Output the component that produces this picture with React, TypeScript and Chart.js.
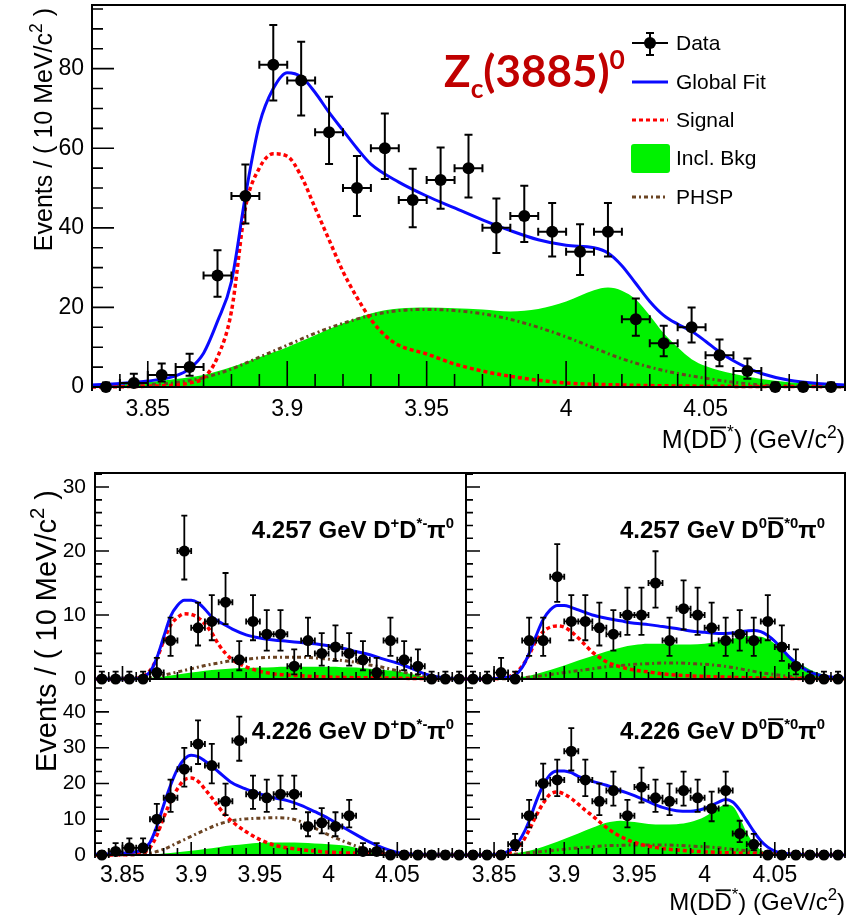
import React, { useEffect, useRef } from 'react';
import { Chart, registerables } from 'chart.js';

Chart.register(...registerables);

const PAGE_W = 862;
const PAGE_H = 917;
const FONT = "'Liberation Sans', Arial, Helvetica, sans-serif";

// ---- shared binning (10 MeV bins) ----
const xMin = 3.83;
const xMax = 4.1;
const binHalfWidth = 0.005;
const binCenters = [
  3.835, 3.845, 3.855, 3.865, 3.875, 3.885, 3.895, 3.905, 3.915, 3.925, 3.935, 3.945, 3.955, 3.965,
  3.975, 3.985, 3.995, 4.005, 4.015, 4.025, 4.035, 4.045, 4.055, 4.065, 4.075, 4.085, 4.095,
];
const xTickValues = [3.85, 3.9, 3.95, 4, 4.05];

// ---- combined fit, Zc(3885)0 ----
const mainCounts = [0, 1, 3, 5, 28, 48, 81, 77, 64, 50, 60, 47, 52, 55, 40, 43, 39, 34, 39, 17, 11, 15, 8, 4, 0, 0, 0];
const mainErrLo = [0, 0.83, 1.63, 2.16, 5.29, 6.91, 8.99, 8.76, 7.98, 7.05, 7.73, 6.84, 7.19, 7.4, 6.31, 6.54, 6.23, 5.83, 6.23, 4.09, 3.26, 3.83, 2.76, 1.91, 0, 0, 0];
const mainErrHi = [1.15, 2.3, 2.92, 3.38, 6.35, 7.93, 9.97, 9.74, 8.97, 8.07, 8.72, 7.86, 8.2, 8.4, 7.35, 7.57, 7.27, 6.87, 7.27, 5.21, 4.42, 4.97, 3.95, 3.16, 1.15, 1.15, 1.15];
const mainFit: [number, number][] = [
  [3.83, 0.5], [3.84, 0.9], [3.85, 1.5], [3.86, 2.8], [3.865, 4.6], [3.87, 8.5], [3.875, 16.5], [3.88, 26.5],
  [3.885, 48], [3.89, 66], [3.895, 75], [3.9, 79], [3.905, 78], [3.91, 74], [3.915, 69], [3.92, 64.5],
  [3.925, 60], [3.93, 56], [3.94, 51.5], [3.95, 48], [3.96, 45], [3.97, 42], [3.98, 39.3], [3.99, 37],
  [4.0, 35.6], [4.01, 35], [4.015, 33.7], [4.02, 30.5], [4.025, 26], [4.03, 21.5], [4.035, 18], [4.04, 15.8],
  [4.045, 14], [4.05, 11.5], [4.055, 8.8], [4.06, 6.6], [4.065, 4.8], [4.07, 3.4], [4.08, 1.7], [4.09, 0.9], [4.1, 0.5],
];
const mainSignal: [number, number][] = [
  [3.83, 0], [3.85, 0.2], [3.86, 0.5], [3.865, 1], [3.87, 2.3], [3.875, 7.5], [3.88, 19], [3.885, 45],
  [3.89, 55], [3.895, 58.6], [3.9, 58], [3.905, 53], [3.91, 45], [3.915, 37], [3.92, 29], [3.925, 22.5],
  [3.93, 17], [3.935, 13], [3.94, 10.5], [3.95, 8.3], [3.96, 5.8], [3.97, 4], [3.98, 2.7], [3.99, 1.7],
  [4.0, 1], [4.02, 0.5], [4.05, 0.2], [4.1, 0.1],
];
const mainBkg: [number, number][] = [
  [3.83, 0.3], [3.84, 0.6], [3.85, 1.2], [3.86, 2], [3.87, 3], [3.88, 5], [3.89, 7.5], [3.9, 10],
  [3.91, 13], [3.92, 16], [3.93, 18.5], [3.94, 19.7], [3.95, 20], [3.96, 19.8], [3.97, 19.5], [3.98, 19],
  [3.99, 19.6], [4.0, 21.5], [4.01, 24.3], [4.015, 25], [4.02, 24.2], [4.025, 22], [4.03, 18], [4.035, 13.5],
  [4.04, 10], [4.045, 7], [4.05, 5.3], [4.06, 3.3], [4.07, 2], [4.08, 1.2], [4.09, 0.8], [4.1, 0.5],
];
const mainPhsp: [number, number][] = [
  [3.83, 0.1], [3.84, 0.3], [3.85, 0.6], [3.86, 1.1], [3.87, 2.3], [3.88, 4.5], [3.89, 7.5], [3.9, 10.5],
  [3.91, 13.5], [3.92, 16], [3.93, 18], [3.94, 19.2], [3.95, 19.5], [3.96, 19.2], [3.97, 18.4], [3.98, 17],
  [3.99, 15], [4.0, 12.6], [4.01, 9.8], [4.02, 7.1], [4.03, 5], [4.04, 3.4], [4.05, 2.2], [4.06, 1.2],
  [4.07, 0.5], [4.08, 0.2], [4.09, 0.1], [4.1, 0],
];

// ---- 4.257 GeV, D+ D*- pi0 ----
const ulCounts = [0, 0, 0, 0, 1, 6, 20, 8, 9, 12, 3, 9, 7, 7, 2, 6, 4, 5, 4, 3, 1, 6, 3, 2, 0, 0, 0];
const ulErrLo = [0, 0, 0, 0, 0.83, 2.38, 4.45, 2.76, 2.94, 3.41, 1.63, 2.94, 2.58, 2.58, 1.29, 2.38, 1.91, 2.16, 1.91, 1.63, 0.83, 2.38, 1.63, 1.29, 0, 0, 0];
const ulErrHi = [1.15, 1.15, 1.15, 1.15, 2.3, 3.58, 5.55, 3.95, 4.12, 4.57, 2.92, 4.12, 3.77, 3.77, 2.64, 3.58, 3.16, 3.38, 3.16, 2.92, 2.3, 3.58, 2.92, 2.64, 1.15, 1.15, 1.15];
const ulFit: [number, number][] = [
  [3.83, 0], [3.86, 0.05], [3.865, 0.3], [3.87, 1.1], [3.875, 3.3], [3.88, 6.6], [3.885, 9.8], [3.89, 11.5],
  [3.895, 12.3], [3.9, 12.3], [3.905, 11.9], [3.91, 10.9], [3.915, 9.7], [3.92, 9], [3.925, 8.4], [3.93, 7.8],
  [3.94, 6.9], [3.95, 6.4], [3.96, 6.1], [3.97, 5.9], [3.98, 5.7], [3.99, 5.5], [4.0, 5.2], [4.01, 4.8],
  [4.02, 4.3], [4.03, 3.8], [4.04, 3.1], [4.05, 2.5], [4.06, 1.7], [4.07, 0.8], [4.08, 0.3], [4.09, 0.05], [4.1, 0],
];
const ulSignal: [number, number][] = [
  [3.83, 0], [3.86, 0.1], [3.865, 0.4], [3.87, 1.3], [3.875, 3.2], [3.88, 6], [3.885, 8.4], [3.89, 9.6],
  [3.895, 10.2], [3.9, 10.1], [3.905, 9.6], [3.91, 8.6], [3.915, 7.2], [3.92, 5.4], [3.925, 4], [3.93, 3],
  [3.94, 1.9], [3.95, 1.2], [3.96, 0.8], [3.98, 0.5], [4.0, 0.3], [4.04, 0.15], [4.1, 0],
];
const ulBkg: [number, number][] = [
  [3.83, 0], [3.86, 0.05], [3.87, 0.2], [3.88, 0.4], [3.89, 0.7], [3.9, 1], [3.91, 1.3], [3.92, 1.5],
  [3.93, 1.65], [3.94, 1.75], [3.95, 1.8], [3.96, 1.85], [3.97, 1.9], [3.98, 1.9], [3.99, 1.9], [4.0, 1.9],
  [4.01, 1.85], [4.02, 1.8], [4.03, 1.6], [4.04, 1.4], [4.05, 1.2], [4.06, 0.8], [4.07, 0.4], [4.08, 0.15], [4.09, 0.05], [4.1, 0],
];
const ulPhsp: [number, number][] = [
  [3.83, 0], [3.86, 0.05], [3.87, 0.2], [3.88, 0.6], [3.89, 1.1], [3.9, 1.6], [3.91, 2.1], [3.92, 2.5],
  [3.93, 2.9], [3.94, 3.1], [3.95, 3.3], [3.96, 3.4], [3.97, 3.4], [3.98, 3.4], [3.99, 3.3], [4.0, 3.1],
  [4.01, 2.9], [4.02, 2.6], [4.03, 2.2], [4.04, 1.8], [4.05, 1.3], [4.06, 0.8], [4.07, 0.4], [4.08, 0.15], [4.09, 0.05], [4.1, 0],
];

// ---- 4.226 GeV, D+ D*- pi0 ----
const llCounts = [0, 1, 2, 2, 10, 16, 24, 31, 25, 15, 32, 17, 16, 17, 17, 8, 9, 8, 11, 1, 1, 0, 0, 0, 0, 0, 0];
const llErrLo = [0, 0.83, 1.29, 1.29, 3.11, 3.96, 4.88, 5.56, 4.99, 3.83, 5.65, 4.09, 3.96, 4.09, 4.09, 2.76, 2.94, 2.76, 3.26, 0.83, 0.83, 0, 0, 0, 0, 0, 0];
const llErrHi = [1.15, 2.3, 2.64, 2.64, 4.27, 5.09, 5.97, 6.62, 6.07, 4.97, 6.7, 5.21, 5.09, 5.21, 5.21, 3.95, 4.12, 3.95, 4.42, 2.3, 2.3, 1.15, 1.15, 1.15, 1.15, 1.15, 1.15];
const llFit: [number, number][] = [
  [3.83, 0.2], [3.84, 0.3], [3.85, 0.5], [3.855, 0.7], [3.86, 0.9], [3.865, 1.7], [3.87, 3.5], [3.875, 8],
  [3.88, 14], [3.885, 19.5], [3.89, 24], [3.895, 26.8], [3.9, 27.9], [3.905, 27.5], [3.91, 26.3], [3.915, 24.8],
  [3.92, 23.2], [3.93, 20.1], [3.94, 18.4], [3.95, 17.1], [3.96, 16], [3.97, 15.2], [3.98, 13.9], [3.99, 12.1],
  [4.0, 10.2], [4.01, 7.9], [4.02, 5.7], [4.03, 3.6], [4.04, 1.9], [4.05, 0.7], [4.06, 0.2], [4.07, 0.05], [4.1, 0],
];
const llSignal: [number, number][] = [
  [3.83, 0], [3.86, 0.2], [3.865, 0.6], [3.87, 2], [3.875, 5.5], [3.88, 10.5], [3.885, 15], [3.89, 18.5],
  [3.895, 21], [3.9, 21.5], [3.905, 20.6], [3.91, 18.4], [3.915, 16], [3.92, 13.4], [3.925, 11.1], [3.93, 9.3],
  [3.94, 6.5], [3.95, 4.3], [3.96, 2.8], [3.97, 2], [3.98, 1.5], [3.99, 1.1], [4.0, 0.8], [4.02, 0.5], [4.05, 0.2], [4.1, 0],
];
const llBkg: [number, number][] = [
  [3.83, 0], [3.87, 0.1], [3.88, 0.4], [3.89, 0.8], [3.9, 1.2], [3.91, 1.7], [3.92, 2.2], [3.93, 2.7],
  [3.94, 3.1], [3.95, 3.4], [3.96, 3.5], [3.97, 3.5], [3.98, 3.4], [3.99, 3.2], [4.0, 3], [4.01, 2.7],
  [4.02, 2], [4.025, 1.4], [4.03, 0.8], [4.04, 0.2], [4.05, 0.05], [4.1, 0],
];
const llPhsp: [number, number][] = [
  [3.83, 0], [3.86, 0.1], [3.87, 0.5], [3.88, 1.6], [3.89, 3.4], [3.9, 5.2], [3.91, 7], [3.92, 8.6],
  [3.93, 9.6], [3.94, 10.1], [3.95, 10.3], [3.96, 10.4], [3.97, 10.3], [3.98, 9.3], [3.99, 7.5], [4.0, 5.6],
  [4.01, 4], [4.02, 2.5], [4.03, 1.3], [4.04, 0.5], [4.05, 0.15], [4.06, 0], [4.1, 0],
];

// ---- 4.257 GeV, D0 D*0bar pi0 ----
const urCounts = [0, 0, 1, 0, 6, 6, 16, 9, 9, 8, 7, 10, 10, 15, 6, 11, 10, 8, 6, 7, 6, 9, 5, 2, 0, 0, 0];
const urErrLo = [0, 0, 0.83, 0, 2.38, 2.38, 3.96, 2.94, 2.94, 2.76, 2.58, 3.11, 3.11, 3.83, 2.38, 3.26, 3.11, 2.76, 2.38, 2.58, 2.38, 2.94, 2.16, 1.29, 0, 0, 0];
const urErrHi = [1.15, 1.15, 2.3, 1.15, 3.58, 3.58, 5.09, 4.12, 4.12, 3.95, 3.77, 4.27, 4.27, 4.97, 3.58, 4.42, 4.27, 3.95, 3.58, 3.77, 3.58, 4.12, 3.38, 2.64, 1.15, 1.15, 1.15];
const urFit: [number, number][] = [
  [3.83, 0], [3.855, 0.1], [3.86, 0.3], [3.865, 0.6], [3.87, 1.8], [3.875, 4], [3.88, 6.8], [3.885, 9.3],
  [3.89, 10.8], [3.895, 11.5], [3.9, 11.5], [3.905, 11.2], [3.91, 10.8], [3.92, 10], [3.93, 9.5], [3.94, 9.1],
  [3.95, 8.7], [3.96, 8.5], [3.97, 8.2], [3.98, 7.9], [3.99, 7.5], [4.0, 7.3], [4.01, 7.1], [4.02, 7.2],
  [4.03, 7.5], [4.035, 7.6], [4.04, 7.4], [4.045, 6.8], [4.05, 5.9], [4.055, 4.7], [4.06, 3.5], [4.065, 2.5],
  [4.07, 1.7], [4.075, 1.1], [4.08, 0.7], [4.09, 0.3], [4.1, 0.1],
];
const urSignal: [number, number][] = [
  [3.83, 0], [3.855, 0.1], [3.86, 0.3], [3.865, 0.9], [3.87, 2], [3.875, 3.8], [3.88, 6], [3.885, 7.4],
  [3.89, 8.1], [3.895, 8.3], [3.9, 8.1], [3.905, 7.4], [3.91, 6.4], [3.915, 5.3], [3.92, 4.2], [3.925, 3.4],
  [3.93, 2.7], [3.94, 1.9], [3.95, 1.4], [3.96, 1.1], [3.97, 0.8], [3.98, 0.6], [4.0, 0.4], [4.03, 0.2], [4.06, 0.1], [4.1, 0],
];
const urBkg: [number, number][] = [
  [3.83, 0], [3.86, 0.05], [3.87, 0.3], [3.88, 0.8], [3.89, 1.4], [3.9, 2.1], [3.91, 2.9], [3.92, 3.6],
  [3.93, 4.3], [3.94, 4.9], [3.95, 5.3], [3.96, 5.5], [3.97, 5.5], [3.98, 5.4], [3.99, 5.4], [4.0, 5.5],
  [4.01, 5.9], [4.02, 6.3], [4.03, 6.7], [4.04, 6.6], [4.045, 6.2], [4.05, 5.5], [4.055, 4.6], [4.06, 3.7],
  [4.065, 2.9], [4.07, 2.1], [4.075, 1.5], [4.08, 1], [4.09, 0.4], [4.1, 0.1],
];
const urPhsp: [number, number][] = [
  [3.83, 0], [3.86, 0.05], [3.87, 0.2], [3.88, 0.4], [3.89, 0.7], [3.9, 1], [3.91, 1.3], [3.92, 1.6],
  [3.93, 1.9], [3.94, 2.1], [3.95, 2.3], [3.96, 2.4], [3.97, 2.5], [3.98, 2.5], [3.99, 2.4], [4.0, 2.3],
  [4.01, 2.1], [4.02, 1.8], [4.03, 1.4], [4.04, 1], [4.05, 0.7], [4.06, 0.4], [4.07, 0.2], [4.08, 0.1], [4.1, 0],
];

// ---- 4.226 GeV, D0 D*0bar pi0 ----
const lrCounts = [0, 0, 0, 3, 11, 20, 21, 29, 21, 15, 18, 11, 19, 16, 15, 18, 16, 13, 18, 6, 3, 0, 0, 0, 0, 0, 0];
const lrErrLo = [0, 0, 0, 1.63, 3.26, 4.45, 4.56, 5.38, 4.56, 3.83, 4.21, 3.26, 4.33, 3.96, 3.83, 4.21, 3.96, 3.56, 4.21, 2.38, 1.63, 0, 0, 0, 0, 0, 0];
const lrErrHi = [1.15, 1.15, 1.15, 2.92, 4.42, 5.55, 5.66, 6.44, 5.66, 4.97, 5.33, 4.42, 5.44, 5.09, 4.97, 5.33, 5.09, 4.7, 5.33, 3.58, 2.92, 1.15, 1.15, 1.15, 1.15, 1.15, 1.15];
const lrFit: [number, number][] = [
  [3.83, 0], [3.85, 0.1], [3.855, 0.4], [3.86, 1], [3.865, 2.5], [3.87, 5.3], [3.875, 9.5], [3.88, 15],
  [3.885, 19.5], [3.89, 22.5], [3.895, 23.5], [3.9, 23.5], [3.905, 23], [3.91, 22], [3.92, 20.6], [3.93, 19.5],
  [3.94, 18], [3.95, 16.6], [3.96, 14.9], [3.97, 13.3], [3.98, 12.4], [3.99, 12.2], [4.0, 13], [4.01, 14.8],
  [4.015, 15.5], [4.02, 14.8], [4.025, 12.6], [4.03, 9.6], [4.035, 6.6], [4.04, 4], [4.045, 2.2], [4.05, 1.1],
  [4.06, 0.3], [4.07, 0.1], [4.1, 0],
];
const lrSignal: [number, number][] = [
  [3.83, 0], [3.855, 0.2], [3.86, 0.5], [3.865, 1.4], [3.87, 3.5], [3.875, 7], [3.88, 11], [3.885, 14.5],
  [3.89, 17], [3.895, 17.6], [3.9, 17], [3.905, 15.8], [3.91, 14.2], [3.915, 12.5], [3.92, 11], [3.925, 9.3],
  [3.93, 7.7], [3.935, 6.3], [3.94, 5.2], [3.95, 3.5], [3.96, 2.5], [3.97, 1.8], [3.98, 1.4], [3.99, 1.1],
  [4.0, 0.9], [4.02, 0.6], [4.04, 0.4], [4.06, 0.2], [4.1, 0],
];
const lrBkg: [number, number][] = [
  [3.83, 0], [3.86, 0.3], [3.87, 0.8], [3.88, 1.7], [3.89, 3], [3.9, 4.5], [3.91, 6], [3.92, 7.6],
  [3.93, 9], [3.94, 9.6], [3.95, 9.2], [3.96, 8.7], [3.97, 8.5], [3.98, 8.6], [3.99, 9.2], [4.0, 10.7],
  [4.01, 13.2], [4.015, 14.1], [4.02, 13.6], [4.025, 10.5], [4.03, 6.2], [4.035, 3.3], [4.04, 1.4], [4.045, 0.5],
  [4.05, 0.15], [4.06, 0], [4.1, 0],
];
const lrPhsp: [number, number][] = [
  [3.83, 0], [3.86, 0.1], [3.87, 0.4], [3.88, 0.8], [3.89, 1.2], [3.9, 1.6], [3.91, 2], [3.92, 2.3],
  [3.93, 2.6], [3.94, 2.7], [3.95, 2.8], [3.96, 2.8], [3.97, 2.8], [3.98, 2.7], [3.99, 2.5], [4.0, 2.3],
  [4.01, 2], [4.02, 1.6], [4.03, 1.2], [4.04, 0.8], [4.05, 0.4], [4.06, 0.15], [4.07, 0.05], [4.1, 0],
];

const COLORS = {
  fit: '#0a0aff',
  signal: '#ff0000',
  bkg: '#00f200',
  phsp: '#6b4423',
  data: '#000000',
  title: '#c00000',
};

const SIGNAL_DASH = [4, 3];
const PHSP_DASH = [4, 3, 2, 3];

// ---- rich text (super/subscripts, overline) ----
type Seg = { t: string; pos?: 'sup' | 'sub'; bar?: boolean };
type RichOpts = { size: number; weight?: string; family?: string; color?: string; align?: 'left' | 'right'; script?: number };

function segFont(s: Seg, o: RichOpts) {
  const sz = s.pos ? o.size * (o.script ?? 0.65) : o.size;
  return `${o.weight ?? 'normal'} ${sz}px ${o.family ?? FONT}`;
}

function drawRich(ctx: CanvasRenderingContext2D, segs: Seg[], x: number, y: number, o: RichOpts) {
  ctx.save();
  ctx.textBaseline = 'alphabetic';
  ctx.textAlign = 'left';
  ctx.fillStyle = o.color ?? '#000';
  const widths = segs.map((s) => {
    ctx.font = segFont(s, o);
    return ctx.measureText(s.t).width;
  });
  const total = widths.reduce((a, b) => a + b, 0);
  let cx = o.align === 'right' ? x - total : x;
  segs.forEach((s, i) => {
    ctx.font = segFont(s, o);
    const dy = s.pos === 'sup' ? -o.size * 0.42 : s.pos === 'sub' ? o.size * 0.24 : 0;
    ctx.fillText(s.t, cx, y + dy);
    if (s.bar) {
      const th = Math.max(1.5, o.size * 0.075);
      ctx.fillRect(cx + 1, y - o.size * 0.86, widths[i] - 2, th);
    }
    cx += widths[i];
  });
  ctx.restore();
}

function drawRotatedRich(ctx: CanvasRenderingContext2D, segs: Seg[], baselineX: number, endY: number, o: RichOpts) {
  ctx.save();
  ctx.translate(baselineX, endY);
  ctx.rotate(-Math.PI / 2);
  drawRich(ctx, segs, 0, 0, { ...o, align: 'right' });
  ctx.restore();
}

const yTitleSegs: Seg[] = [{ t: 'Events / ( 10 MeV/c' }, { t: '2', pos: 'sup' }, { t: ' )' }];
const xTitleSegs: Seg[] = [
  { t: 'M(D' },
  { t: 'D', bar: true },
  { t: '*', pos: 'sup' },
  { t: ') (GeV/c' },
  { t: '2', pos: 'sup' },
  { t: ')' },
];
const chargedLabel = (energy: string): Seg[] => [
  { t: `${energy} GeV D` },
  { t: '+', pos: 'sup' },
  { t: 'D' },
  { t: '*-', pos: 'sup' },
  { t: 'π' },
  { t: '0', pos: 'sup' },
];
const neutralLabel = (energy: string): Seg[] => [
  { t: `${energy} GeV D` },
  { t: '0', pos: 'sup' },
  { t: 'D', bar: true },
  { t: '*0', pos: 'sup' },
  { t: 'π' },
  { t: '0', pos: 'sup' },
];

const legendItems = ['Data', 'Global Fit', 'Signal', 'Incl. Bkg', 'PHSP'];

// ---- panel description ----
interface PanelSpec {
  key: string;
  frame: { l: number; t: number; r: number; b: number };
  yMax: number;
  yTicks: number[];
  yMajorStep: number;
  yMinorStep: number;
  xMajorStep: number;
  xMinorStep: number;
  xMajorLen: number;
  xMinorLen: number;
  yMajorLen: number;
  yMinorLen: number;
  showX: boolean;
  showY: boolean;
  xFont: number;
  yFont: number;
  xPad: number;
  yPad: number;
  pointRadius: number;
  cap: number;
  errW: number;
  lineW: number;
  counts: number[];
  errLo: number[];
  errHi: number[];
  fit: [number, number][];
  signal: [number, number][];
  bkg: [number, number][];
  phsp: [number, number][];
  decorate?: (ctx: CanvasRenderingContext2D) => void;
}

function drawLegend(ctx: CanvasRenderingContext2D) {
  const x0 = 632;
  const x1 = 668;
  const ys = [43, 82, 120, 158, 197];
  ctx.save();
  // Data marker
  ctx.strokeStyle = '#000';
  ctx.lineWidth = 2;
  ctx.beginPath();
  ctx.moveTo(x0, ys[0]);
  ctx.lineTo(x1, ys[0]);
  ctx.moveTo(650, ys[0] - 10);
  ctx.lineTo(650, ys[0] + 12);
  ctx.moveTo(646, ys[0] - 10);
  ctx.lineTo(654, ys[0] - 10);
  ctx.moveTo(646, ys[0] + 12);
  ctx.lineTo(654, ys[0] + 12);
  ctx.stroke();
  ctx.fillStyle = '#000';
  ctx.beginPath();
  ctx.arc(650, ys[0], 6, 0, Math.PI * 2);
  ctx.fill();
  // Global fit
  ctx.strokeStyle = COLORS.fit;
  ctx.lineWidth = 3;
  ctx.beginPath();
  ctx.moveTo(x0, ys[1]);
  ctx.lineTo(x1, ys[1]);
  ctx.stroke();
  // Signal
  ctx.strokeStyle = COLORS.signal;
  ctx.setLineDash(SIGNAL_DASH);
  ctx.beginPath();
  ctx.moveTo(x0, ys[2]);
  ctx.lineTo(x1, ys[2]);
  ctx.stroke();
  // Inclusive background
  ctx.setLineDash([]);
  ctx.fillStyle = COLORS.bkg;
  ctx.beginPath();
  ctx.roundRect(631, ys[3] - 14, 39, 29, 3);
  ctx.fill();
  // PHSP
  ctx.strokeStyle = COLORS.phsp;
  ctx.setLineDash(PHSP_DASH);
  ctx.beginPath();
  ctx.moveTo(x0, ys[4]);
  ctx.lineTo(x1, ys[4]);
  ctx.stroke();
  ctx.setLineDash([]);
  ctx.fillStyle = '#000';
  ctx.font = `21px ${FONT}`;
  ctx.textBaseline = 'middle';
  ctx.textAlign = 'left';
  legendItems.forEach((t, i) => ctx.fillText(t, 676, ys[i] + 1));
  ctx.restore();
}

function drawMainDecor(ctx: CanvasRenderingContext2D) {
  drawLegend(ctx);
  drawRich(
    ctx,
    [{ t: 'Z' }, { t: 'c', pos: 'sub' }, { t: '(3885)' }, { t: '0', pos: 'sup' }],
    444,
    87,
    { size: 44, weight: 'bold', family: "Lato, 'Open Sans', sans-serif", color: COLORS.title, script: 0.6 },
  );
  drawRich(ctx, xTitleSegs, 845, 448, { size: 25, align: 'right', script: 0.7 });
  drawRotatedRich(ctx, yTitleSegs, 52, 8, { size: 25, script: 0.7 });
}

const mainPanel: PanelSpec = {
  key: 'main',
  frame: { l: 92, t: 5, r: 845, b: 387 },
  yMax: 96,
  yTicks: [0, 20, 40, 60, 80],
  yMajorStep: 20,
  yMinorStep: 5,
  xMajorStep: 0.05,
  xMinorStep: 0.01,
  xMajorLen: 26,
  xMinorLen: 13,
  yMajorLen: 22,
  yMinorLen: 11,
  showX: true,
  showY: true,
  xFont: 23,
  yFont: 23,
  xPad: 9,
  yPad: 8,
  pointRadius: 6,
  cap: 4,
  errW: 2,
  lineW: 3,
  counts: mainCounts,
  errLo: mainErrLo,
  errHi: mainErrHi,
  fit: mainFit,
  signal: mainSignal,
  bkg: mainBkg,
  phsp: mainPhsp,
  decorate: drawMainDecor,
};

const smallCommon = {
  xMajorStep: 0.05,
  xMinorStep: 0.01,
  xMajorLen: 13,
  xMinorLen: 7,
  yMajorLen: 14,
  yMinorLen: 7,
  xFont: 23,
  yFont: 21,
  xPad: 7,
  yPad: 9,
  pointRadius: 5.5,
  cap: 3,
  errW: 1.8,
  lineW: 3,
};

const upperLeft: PanelSpec = {
  ...smallCommon,
  key: 'ul',
  frame: { l: 95, t: 473, r: 466, b: 679 },
  yMax: 32.2,
  yTicks: [0, 10, 20, 30],
  yMajorStep: 10,
  yMinorStep: 2,
  showX: false,
  showY: true,
  counts: ulCounts,
  errLo: ulErrLo,
  errHi: ulErrHi,
  fit: ulFit,
  signal: ulSignal,
  bkg: ulBkg,
  phsp: ulPhsp,
  decorate: (ctx) => drawRich(ctx, chargedLabel('4.257'), 454, 538, { size: 24, weight: 'bold', align: 'right', script: 0.62 }),
};

const lowerLeft: PanelSpec = {
  ...smallCommon,
  key: 'll',
  frame: { l: 95, t: 679, r: 466, b: 855 },
  yMax: 49.2,
  yTicks: [0, 10, 20, 30, 40],
  yMajorStep: 10,
  yMinorStep: 10 / 3,
  showX: true,
  showY: true,
  counts: llCounts,
  errLo: llErrLo,
  errHi: llErrHi,
  fit: llFit,
  signal: llSignal,
  bkg: llBkg,
  phsp: llPhsp,
  decorate: (ctx) => {
    drawRich(ctx, chargedLabel('4.226'), 454, 739, { size: 24, weight: 'bold', align: 'right', script: 0.62 });
    drawRotatedRich(ctx, yTitleSegs, 56, 490, { size: 29, script: 0.7 });
  },
};

const upperRight: PanelSpec = {
  ...smallCommon,
  key: 'ur',
  frame: { l: 466, t: 473, r: 845, b: 679 },
  yMax: 32.2,
  yTicks: [0, 10, 20, 30],
  yMajorStep: 10,
  yMinorStep: 2,
  showX: false,
  showY: false,
  counts: urCounts,
  errLo: urErrLo,
  errHi: urErrHi,
  fit: urFit,
  signal: urSignal,
  bkg: urBkg,
  phsp: urPhsp,
  decorate: (ctx) => drawRich(ctx, neutralLabel('4.257'), 825, 538, { size: 24, weight: 'bold', align: 'right', script: 0.62 }),
};

const lowerRight: PanelSpec = {
  ...smallCommon,
  key: 'lr',
  frame: { l: 466, t: 679, r: 845, b: 855 },
  yMax: 49.2,
  yTicks: [0, 10, 20, 30, 40],
  yMajorStep: 10,
  yMinorStep: 10 / 3,
  showX: true,
  showY: false,
  counts: lrCounts,
  errLo: lrErrLo,
  errHi: lrErrHi,
  fit: lrFit,
  signal: lrSignal,
  bkg: lrBkg,
  phsp: lrPhsp,
  decorate: (ctx) => {
    drawRich(ctx, neutralLabel('4.226'), 825, 739, { size: 24, weight: 'bold', align: 'right', script: 0.62 });
    drawRich(ctx, xTitleSegs, 845, 910, { size: 24, align: 'right', script: 0.7 });
  },
};

// ---- ROOT-like frame, inward ticks, error bars ----
function makeRootPlugin(p: PanelSpec) {
  return {
    id: 'rootStyle_' + p.key,
    beforeDatasetDraw(chart: any, args: any) {
      if (args.index !== 0) return;
      const { ctx, chartArea: a, scales } = chart;
      const xs = scales.x;
      const ys = scales.y;
      ctx.save();
      ctx.strokeStyle = '#000';
      ctx.lineWidth = 1.6;
      ctx.beginPath();
      const k0 = Math.ceil(xMin / p.xMinorStep - 1e-6);
      const k1 = Math.floor(xMax / p.xMinorStep + 1e-6);
      for (let k = k0; k <= k1; k++) {
        const v = k * p.xMinorStep;
        const r = v / p.xMajorStep;
        const major = Math.abs(r - Math.round(r)) < 1e-6;
        const px = xs.getPixelForValue(v);
        ctx.moveTo(px, a.bottom);
        ctx.lineTo(px, a.bottom - (major ? p.xMajorLen : p.xMinorLen));
      }
      const n1 = Math.floor(p.yMax / p.yMinorStep + 1e-6);
      for (let k = 0; k <= n1; k++) {
        const v = k * p.yMinorStep;
        const r = v / p.yMajorStep;
        const major = Math.abs(r - Math.round(r)) < 1e-6;
        const py = ys.getPixelForValue(v);
        ctx.moveTo(a.left, py);
        ctx.lineTo(a.left + (major ? p.yMajorLen : p.yMinorLen), py);
      }
      ctx.stroke();
      ctx.lineWidth = 2;
      ctx.strokeRect(a.left, a.top, a.right - a.left, a.bottom - a.top);
      ctx.restore();
    },
    afterDatasetDraw(chart: any, args: any) {
      if (args.index !== 0) return;
      const { ctx, scales } = chart;
      const xs = scales.x;
      const ys = scales.y;
      const c = p.cap;
      ctx.save();
      ctx.strokeStyle = '#000';
      ctx.lineWidth = p.errW;
      ctx.beginPath();
      p.counts.forEach((n, i) => {
        const xc = binCenters[i];
        const cx = xs.getPixelForValue(xc);
        const cy = ys.getPixelForValue(n);
        const xl = xs.getPixelForValue(xc - binHalfWidth);
        const xr = xs.getPixelForValue(xc + binHalfWidth);
        ctx.moveTo(xl, cy);
        ctx.lineTo(xr, cy);
        ctx.moveTo(xl, cy - c);
        ctx.lineTo(xl, cy + c);
        ctx.moveTo(xr, cy - c);
        ctx.lineTo(xr, cy + c);
        const yt = ys.getPixelForValue(n + p.errHi[i]);
        const yb = ys.getPixelForValue(n - p.errLo[i]);
        ctx.moveTo(cx, yb);
        ctx.lineTo(cx, yt);
        ctx.moveTo(cx - c, yt);
        ctx.lineTo(cx + c, yt);
        if (p.errLo[i] > 0) {
          ctx.moveTo(cx - c, yb);
          ctx.lineTo(cx + c, yb);
        }
      });
      ctx.stroke();
      ctx.restore();
    },
    afterDraw(chart: any) {
      if (p.decorate) p.decorate(chart.ctx);
    },
  };
}

function makeConfig(p: PanelSpec) {
  const fr = p.frame;
  const yAxisW = p.showY ? 60 : 0;
  const xAxisH = p.showX ? 40 : 0;
  const padding = {
    left: fr.l - yAxisW,
    top: fr.t,
    right: PAGE_W - fr.r,
    bottom: PAGE_H - fr.b - xAxisH,
  };
  const curve = (pts: [number, number][]) => pts.map(([x, y]) => ({ x, y }));
  const lineBase = {
    pointRadius: 0,
    pointHoverRadius: 0,
    cubicInterpolationMode: 'monotone',
    fill: false,
    borderWidth: p.lineW,
    clip: 4,
  };
  const clearEdgePadding = (s: any) => {
    s.paddingTop = 0;
    s.paddingBottom = 0;
    s.paddingLeft = 0;
    s.paddingRight = 0;
  };
  return {
    type: 'line',
    data: {
      datasets: [
        {
          label: 'Data',
          data: p.counts.map((y, i) => ({ x: binCenters[i], y })),
          showLine: false,
          pointRadius: p.pointRadius,
          pointHoverRadius: p.pointRadius,
          pointBackgroundColor: COLORS.data,
          pointBorderColor: COLORS.data,
          pointBorderWidth: 0,
          order: 0,
          clip: false,
        },
        { ...lineBase, label: 'Global Fit', data: curve(p.fit), borderColor: COLORS.fit, order: 1 },
        { ...lineBase, label: 'Signal', data: curve(p.signal), borderColor: COLORS.signal, borderDash: SIGNAL_DASH, borderWidth: p.lineW + 0.5, order: 2 },
        { ...lineBase, label: 'PHSP', data: curve(p.phsp), borderColor: COLORS.phsp, borderDash: PHSP_DASH, order: 3 },
        {
          label: 'Incl. Bkg',
          data: curve(p.bkg),
          pointRadius: 0,
          cubicInterpolationMode: 'monotone',
          fill: 'origin',
          backgroundColor: COLORS.bkg,
          borderColor: 'rgba(0,0,0,0)',
          borderWidth: 0,
          order: 4,
        },
      ],
    },
    options: {
      animation: false,
      responsive: false,
      events: [],
      layout: { padding, autoPadding: false },
      plugins: { legend: { display: false }, tooltip: { enabled: false } },
      scales: {
        x: {
          type: 'linear',
          min: xMin,
          max: xMax,
          display: p.showX,
          grid: { display: false, drawTicks: false },
          border: { display: false },
          ticks: {
            autoSkip: false,
            maxRotation: 0,
            minRotation: 0,
            padding: p.xPad,
            color: '#000',
            font: { family: FONT, size: p.xFont },
            callback: (v: number) => String(v),
          },
          afterBuildTicks: (s: any) => {
            s.ticks = xTickValues.map((v) => ({ value: v }));
          },
          afterFit: (s: any) => {
            s.height = xAxisH;
            clearEdgePadding(s);
          },
        },
        y: {
          type: 'linear',
          min: 0,
          max: p.yMax,
          display: p.showY,
          grid: { display: false, drawTicks: false },
          border: { display: false },
          ticks: {
            autoSkip: false,
            padding: p.yPad,
            color: '#000',
            font: { family: FONT, size: p.yFont },
            callback: (v: number) => String(v),
          },
          afterBuildTicks: (s: any) => {
            s.ticks = p.yTicks.map((v) => ({ value: v }));
          },
          afterFit: (s: any) => {
            s.width = yAxisW;
            clearEdgePadding(s);
          },
        },
      },
    },
    plugins: [makeRootPlugin(p)],
  };
}

function PanelCanvas({ spec }: { spec: PanelSpec }) {
  const ref = useRef<HTMLCanvasElement>(null);
  useEffect(() => {
    const el = ref.current;
    if (!el) return;
    const chart = new Chart(el, makeConfig(spec) as any);
    return () => chart.destroy();
  }, [spec]);
  return (
    <canvas
      ref={ref}
      width={PAGE_W}
      height={PAGE_H}
      style={{ position: 'absolute', left: 0, top: 0, width: PAGE_W, height: PAGE_H }}
    />
  );
}

const panels = [lowerLeft, lowerRight, upperLeft, upperRight, mainPanel];

export default function App() {
  return (
    <div
      style={{
        position: 'absolute',
        left: 0,
        top: 0,
        width: PAGE_W,
        height: PAGE_H,
        background: '#ffffff',
        overflow: 'hidden',
      }}
    >
      {panels.map((s) => (
        <PanelCanvas key={s.key} spec={s} />
      ))}
    </div>
  );
}
